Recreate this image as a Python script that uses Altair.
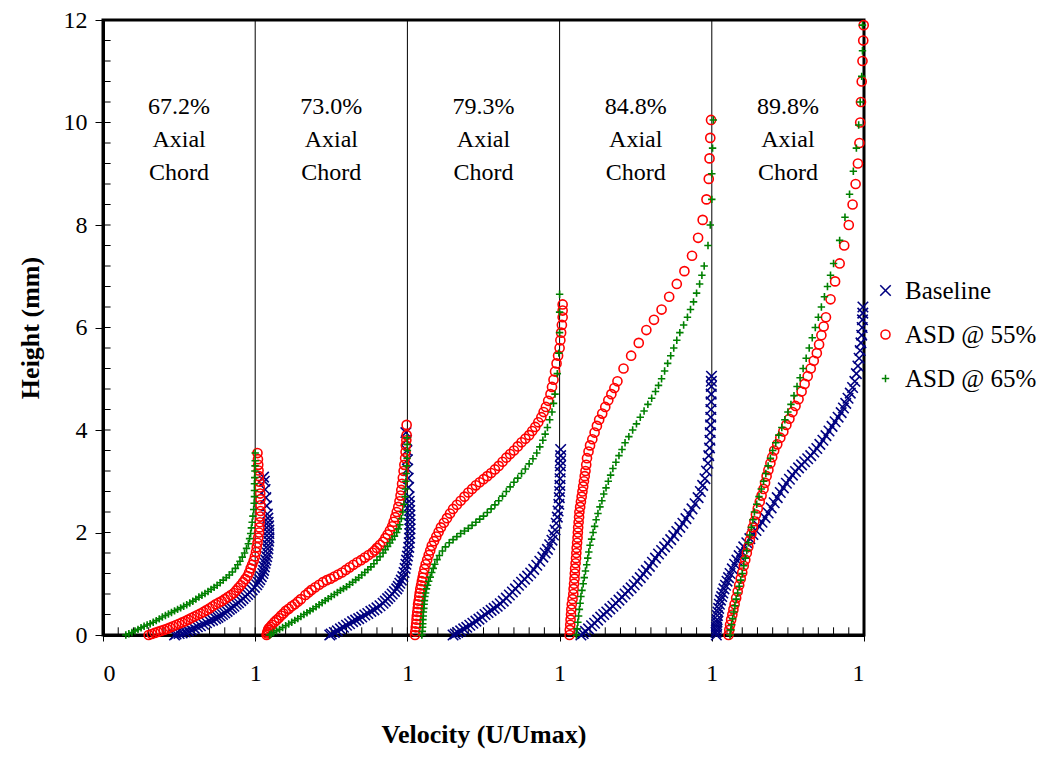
import json
import altair as alt
import pandas as pd

series_names = ["Baseline", "ASD @ 55%", "ASD @ 65%"]
series_colors = ["#000080", "#FF0000", "#008000"]
chord_labels = ["67.2%", "73.0%", "79.3%", "84.8%", "89.8%"]
x_tick_values = [0, 1, 2, 3, 4, 5]
x_tick_labels = ["0", "1", "1", "1", "1", "1"]
y_tick_values = [0, 2, 4, 6, 8, 10, 12]
divider_x = [1, 2, 3, 4]

# (offset velocity, height mm), panel by panel
baseline_points = [
    # 67.2%
    (0.47, 0.0), (0.50, 0.03), (0.54, 0.06), (0.58, 0.10), (0.62, 0.16), (0.66, 0.21), (0.70, 0.27),
    (0.74, 0.32), (0.77, 0.37), (0.80, 0.43), (0.83, 0.50), (0.86, 0.56), (0.89, 0.63), (0.92, 0.71),
    (0.95, 0.79), (0.98, 0.88), (1.01, 0.98), (1.03, 1.08), (1.05, 1.20), (1.06, 1.33), (1.07, 1.46),
    (1.08, 1.60), (1.085, 1.75), (1.09, 1.90), (1.09, 2.05), (1.085, 2.20), (1.08, 2.36), (1.075, 2.52),
    (1.07, 2.68), (1.065, 2.84), (1.06, 3.0), (1.055, 3.08),
    (0.48, 0.02), (0.52, 0.04), (0.56, 0.08), (0.60, 0.13), (0.64, 0.18), (0.68, 0.24), (0.72, 0.29),
    (0.755, 0.345), (0.785, 0.40), (0.815, 0.46), (0.845, 0.53), (0.875, 0.6), (0.905, 0.67),
    (0.935, 0.75), (0.965, 0.83), (0.995, 0.93), (1.02, 1.03), (1.04, 1.14), (1.055, 1.26),
    (1.065, 1.4), (1.075, 1.53), (1.083, 1.68), (1.088, 1.83), (1.09, 1.98), (1.088, 2.13), (1.083, 2.28),
    # 73.0%
    (1.49, 0.0), (1.52, 0.05), (1.56, 0.12), (1.60, 0.19), (1.64, 0.26), (1.68, 0.32), (1.72, 0.39),
    (1.76, 0.46), (1.80, 0.53), (1.84, 0.62), (1.87, 0.71), (1.90, 0.80), (1.93, 0.90), (1.95, 1.01),
    (1.97, 1.14), (1.985, 1.30), (1.995, 1.46), (2.005, 1.62), (2.012, 1.80), (2.016, 1.98), (2.017, 2.16),
    (2.016, 2.34), (2.014, 2.52), (2.011, 2.70), (2.008, 2.88), (2.005, 3.06), (2.002, 3.24), (2.0, 3.42),
    (1.997, 3.6), (1.994, 3.8), (1.99, 3.95),
    (1.50, 0.02), (1.54, 0.08), (1.58, 0.15), (1.62, 0.22), (1.66, 0.29), (1.70, 0.35), (1.74, 0.42),
    (1.78, 0.49), (1.82, 0.57), (1.855, 0.66), (1.885, 0.75), (1.915, 0.85), (1.94, 0.95), (1.96, 1.07),
    (1.978, 1.22), (1.99, 1.38), (2.0, 1.54), (2.009, 1.71), (2.014, 1.89), (2.017, 2.07), (2.017, 2.25),
    (2.015, 2.43), (2.012, 2.61),
    # 79.3%
    (2.30, 0.0), (2.33, 0.05), (2.37, 0.12), (2.41, 0.19), (2.45, 0.27), (2.49, 0.35), (2.53, 0.44),
    (2.57, 0.52), (2.61, 0.61), (2.65, 0.72), (2.69, 0.84), (2.73, 0.97), (2.77, 1.09), (2.81, 1.21),
    (2.85, 1.36), (2.89, 1.52), (2.92, 1.67), (2.95, 1.85), (2.97, 2.05), (2.985, 2.3), (2.995, 2.55),
    (3.0, 2.8), (3.003, 3.05), (3.005, 3.3), (3.007, 3.5), (3.007, 3.62),
    (2.315, 0.02), (2.35, 0.08), (2.39, 0.15), (2.43, 0.23), (2.47, 0.31), (2.51, 0.4), (2.55, 0.48),
    (2.59, 0.56), (2.63, 0.66), (2.67, 0.78), (2.71, 0.9), (2.75, 1.03), (2.79, 1.15), (2.83, 1.28),
    (2.87, 1.44), (2.905, 1.6), (2.935, 1.76), (2.96, 1.95), (2.978, 2.18), (2.99, 2.42), (2.998, 2.68),
    (3.002, 2.92), (3.004, 3.18), (3.006, 3.4),
    # 84.8%
    (3.14, 0.0), (3.17, 0.07), (3.21, 0.18), (3.25, 0.29), (3.29, 0.40), (3.33, 0.51), (3.37, 0.62),
    (3.41, 0.74), (3.45, 0.86), (3.49, 0.98), (3.53, 1.12), (3.57, 1.26), (3.61, 1.42), (3.65, 1.58),
    (3.69, 1.72), (3.73, 1.86), (3.77, 2.02), (3.81, 2.18), (3.85, 2.36), (3.89, 2.56), (3.925, 2.8),
    (3.955, 3.05), (3.975, 3.35), (3.985, 3.65), (3.99, 3.95), (3.993, 4.25), (3.995, 4.55),
    (3.997, 4.85), (3.998, 5.05),
    (3.155, 0.03), (3.19, 0.12), (3.23, 0.23), (3.27, 0.35), (3.31, 0.45), (3.35, 0.56), (3.39, 0.68),
    (3.43, 0.8), (3.47, 0.92), (3.51, 1.05), (3.55, 1.19), (3.59, 1.34), (3.63, 1.5), (3.67, 1.65),
    (3.71, 1.79), (3.75, 1.94), (3.79, 2.1), (3.83, 2.27), (3.87, 2.46), (3.91, 2.68), (3.94, 2.92),
    (3.965, 3.2), (3.98, 3.5), (3.988, 3.8), (3.992, 4.1), (3.994, 4.4), (3.996, 4.7), (3.997, 4.95),
    # 89.8%
    (4.03, 0.0), (4.03, 0.1), (4.032, 0.2), (4.035, 0.3), (4.04, 0.45), (4.05, 0.6), (4.065, 0.75),
    (4.08, 0.9), (4.10, 1.05), (4.12, 1.2), (4.15, 1.38), (4.18, 1.55), (4.21, 1.72), (4.25, 1.88),
    (4.29, 2.04), (4.33, 2.2), (4.37, 2.38), (4.41, 2.58), (4.45, 2.78), (4.49, 2.96), (4.53, 3.12),
    (4.57, 3.26), (4.61, 3.38), (4.65, 3.5), (4.69, 3.64), (4.73, 3.8), (4.77, 3.98), (4.81, 4.16),
    (4.85, 4.34), (4.88, 4.52), (4.91, 4.72), (4.94, 4.95), (4.96, 5.25), (4.975, 5.55), (4.985, 5.85),
    (4.99, 6.15), (4.993, 6.4),
    (4.028, 0.05), (4.031, 0.15), (4.034, 0.25), (4.037, 0.38), (4.045, 0.52), (4.057, 0.68),
    (4.072, 0.82), (4.09, 0.97), (4.11, 1.12), (4.135, 1.29), (4.165, 1.46), (4.195, 1.63), (4.23, 1.8),
    (4.27, 1.96), (4.31, 2.12), (4.35, 2.29), (4.39, 2.48), (4.43, 2.68), (4.47, 2.87), (4.51, 3.04),
    (4.55, 3.19), (4.59, 3.32), (4.63, 3.44), (4.67, 3.57), (4.71, 3.72), (4.75, 3.89), (4.79, 4.07),
    (4.83, 4.25), (4.865, 4.43), (4.895, 4.62), (4.925, 4.83), (4.95, 5.1), (4.968, 5.4), (4.98, 5.7),
    (4.988, 6.0), (4.992, 6.28),
]

asd55_points = [
    # 67.2%
    (0.30, 0.0), (0.34, 0.04), (0.38, 0.08), (0.42, 0.12), (0.46, 0.17), (0.50, 0.22), (0.54, 0.27),
    (0.58, 0.33), (0.62, 0.39), (0.66, 0.45), (0.70, 0.52), (0.74, 0.60), (0.78, 0.66), (0.82, 0.74),
    (0.86, 0.82), (0.89, 0.92), (0.92, 1.03), (0.95, 1.15), (0.97, 1.30), (0.99, 1.45), (1.005, 1.62),
    (1.015, 1.80), (1.025, 2.0), (1.03, 2.2), (1.035, 2.42), (1.035, 2.65), (1.03, 2.88), (1.025, 3.1),
    (1.02, 3.32), (1.015, 3.55),
    (0.32, 0.02), (0.36, 0.06), (0.40, 0.10), (0.44, 0.145), (0.48, 0.195), (0.52, 0.245), (0.56, 0.30),
    (0.60, 0.36), (0.64, 0.42), (0.68, 0.485), (0.72, 0.56), (0.76, 0.63), (0.80, 0.70), (0.84, 0.78),
    (0.875, 0.87), (0.905, 0.97), (0.935, 1.09), (0.96, 1.22), (0.98, 1.37), (0.998, 1.53), (1.01, 1.71),
    (1.02, 1.9), (1.028, 2.1), (1.033, 2.31), (1.035, 2.53), (1.033, 2.76), (1.028, 2.99), (1.022, 3.21),
    (1.018, 3.43),
    # 73.0%
    (1.075, 0.0), (1.08, 0.06), (1.09, 0.13), (1.11, 0.20), (1.14, 0.29), (1.17, 0.38), (1.20, 0.47),
    (1.24, 0.56), (1.28, 0.65), (1.33, 0.78), (1.37, 0.88), (1.42, 0.98), (1.47, 1.07), (1.52, 1.14),
    (1.57, 1.22), (1.62, 1.32), (1.67, 1.42), (1.72, 1.51), (1.77, 1.61), (1.80, 1.70), (1.84, 1.82),
    (1.87, 1.96), (1.90, 2.12), (1.92, 2.30), (1.94, 2.50), (1.955, 2.72), (1.965, 2.95), (1.975, 3.2),
    (1.985, 3.45), (1.99, 3.7), (1.995, 3.9), (1.995, 4.1),
    (1.078, 0.03), (1.085, 0.1), (1.10, 0.16), (1.125, 0.25), (1.155, 0.33), (1.185, 0.42), (1.22, 0.51),
    (1.26, 0.6), (1.30, 0.7), (1.35, 0.83), (1.395, 0.93), (1.445, 1.03), (1.495, 1.1), (1.545, 1.18),
    (1.595, 1.27), (1.645, 1.37), (1.695, 1.46), (1.745, 1.56), (1.785, 1.65), (1.82, 1.76),
    (1.855, 1.89), (1.885, 2.04), (1.91, 2.21), (1.93, 2.4), (1.948, 2.61), (1.96, 2.83), (1.97, 3.07),
    (1.98, 3.32), (1.988, 3.57), (1.993, 3.8),
    # 79.3%
    (2.05, 0.0), (2.055, 0.15), (2.06, 0.3), (2.065, 0.45), (2.07, 0.6), (2.078, 0.75), (2.085, 0.9),
    (2.095, 1.05), (2.105, 1.2), (2.12, 1.38), (2.14, 1.56), (2.16, 1.74), (2.19, 1.92), (2.22, 2.1),
    (2.26, 2.28), (2.30, 2.46), (2.35, 2.62), (2.40, 2.78), (2.45, 2.92), (2.50, 3.04), (2.55, 3.16),
    (2.60, 3.3), (2.65, 3.46), (2.70, 3.6), (2.75, 3.76), (2.80, 3.9), (2.84, 4.06), (2.88, 4.25),
    (2.91, 4.45), (2.94, 4.7), (2.96, 4.98), (2.98, 5.3), (3.0, 5.6), (3.01, 5.9), (3.02, 6.2), (3.02, 6.45),
    (2.052, 0.07), (2.058, 0.22), (2.062, 0.37), (2.068, 0.52), (2.074, 0.67), (2.081, 0.82),
    (2.09, 0.97), (2.1, 1.12), (2.112, 1.29), (2.13, 1.47), (2.15, 1.65), (2.175, 1.83), (2.205, 2.01),
    (2.24, 2.19), (2.28, 2.37), (2.325, 2.54), (2.375, 2.7), (2.425, 2.85), (2.475, 2.98), (2.525, 3.1),
    (2.575, 3.23), (2.625, 3.38), (2.675, 3.53), (2.725, 3.68), (2.775, 3.83), (2.82, 3.98),
    (2.86, 4.15), (2.895, 4.35), (2.925, 4.57), (2.95, 4.84), (2.97, 5.14), (2.99, 5.45), (3.005, 5.75),
    (3.015, 6.05), (3.02, 6.33),
    # 84.8%
    (3.065, 0.0), (3.07, 0.2), (3.075, 0.4), (3.08, 0.6), (3.09, 0.8), (3.095, 1.0), (3.10, 1.2),
    (3.105, 1.4), (3.11, 1.6), (3.115, 1.8), (3.12, 2.0), (3.125, 2.2), (3.13, 2.4), (3.14, 2.6),
    (3.15, 2.8), (3.16, 3.0), (3.17, 3.2), (3.18, 3.45), (3.20, 3.7), (3.23, 3.95), (3.26, 4.2),
    (3.30, 4.45), (3.34, 4.7), (3.38, 4.95), (3.42, 5.2), (3.47, 5.45), (3.52, 5.7), (3.57, 5.95),
    (3.62, 6.15), (3.67, 6.35), (3.72, 6.6), (3.77, 6.85), (3.82, 7.1), (3.87, 7.4), (3.91, 7.75),
    (3.94, 8.1), (3.965, 8.5), (3.98, 8.9), (3.985, 9.3), (3.99, 9.7), (3.995, 10.05),
    (3.067, 0.1), (3.072, 0.3), (3.077, 0.5), (3.085, 0.7), (3.092, 0.9), (3.098, 1.1), (3.102, 1.3),
    (3.108, 1.5), (3.112, 1.7), (3.118, 1.9), (3.122, 2.1), (3.128, 2.3), (3.135, 2.5), (3.145, 2.7),
    (3.155, 2.9), (3.165, 3.1), (3.175, 3.32), (3.19, 3.58), (3.215, 3.82), (3.245, 4.08),
    (3.28, 4.32), (3.32, 4.58), (3.36, 4.82),
    # 89.8%
    (4.11, 0.0), (4.12, 0.2), (4.135, 0.4), (4.15, 0.6), (4.17, 0.85), (4.19, 1.1), (4.21, 1.35),
    (4.23, 1.6), (4.25, 1.85), (4.27, 2.1), (4.29, 2.35), (4.315, 2.6), (4.34, 2.85), (4.36, 3.1),
    (4.385, 3.35), (4.41, 3.6), (4.45, 3.85), (4.49, 4.1), (4.53, 4.35), (4.57, 4.6), (4.61, 4.9),
    (4.65, 5.2), (4.69, 5.5), (4.72, 5.85), (4.75, 6.2), (4.78, 6.55), (4.81, 6.9), (4.84, 7.25),
    (4.87, 7.6), (4.90, 8.0), (4.925, 8.4), (4.945, 8.8), (4.96, 9.2), (4.97, 9.6), (4.975, 10.0),
    (4.98, 10.4), (4.985, 10.8), (4.99, 11.2), (4.995, 11.6), (4.998, 11.9),
    (4.115, 0.1), (4.127, 0.3), (4.142, 0.5), (4.16, 0.72), (4.18, 0.97), (4.2, 1.22), (4.22, 1.47),
    (4.24, 1.72), (4.26, 1.97), (4.28, 2.22), (4.302, 2.47), (4.327, 2.72), (4.35, 2.97), (4.372, 3.22),
    (4.397, 3.47), (4.43, 3.72), (4.47, 3.97), (4.51, 4.22), (4.55, 4.47), (4.59, 4.75), (4.63, 5.05),
    (4.67, 5.35), (4.705, 5.67), (4.735, 6.02),
]

asd65_points = [
    # 67.2%
    (0.15, 0.0), (0.19, 0.05), (0.23, 0.11), (0.27, 0.17), (0.31, 0.22), (0.35, 0.28), (0.39, 0.35),
    (0.43, 0.41), (0.47, 0.47), (0.51, 0.53), (0.55, 0.59), (0.59, 0.66), (0.63, 0.74), (0.67, 0.81),
    (0.71, 0.89), (0.75, 0.97), (0.79, 1.07), (0.83, 1.17), (0.87, 1.30), (0.90, 1.44), (0.93, 1.60),
    (0.955, 1.78), (0.97, 1.98), (0.98, 2.2), (0.99, 2.45), (0.995, 2.7), (0.995, 2.95), (0.998, 3.2),
    (1.0, 3.4), (1.0, 3.55),
    (0.17, 0.025), (0.21, 0.08), (0.25, 0.14), (0.29, 0.195), (0.33, 0.25), (0.37, 0.315), (0.41, 0.38),
    (0.45, 0.44), (0.49, 0.5), (0.53, 0.56), (0.57, 0.625), (0.61, 0.7), (0.65, 0.775), (0.69, 0.85),
    (0.73, 0.93), (0.77, 1.02), (0.81, 1.12), (0.85, 1.23), (0.885, 1.37), (0.915, 1.52), (0.943, 1.69),
    (0.963, 1.88), (0.975, 2.09), (0.985, 2.32), (0.993, 2.57), (0.995, 2.82), (0.997, 3.07),
    (0.999, 3.3),
    # 73.0%
    (1.095, 0.0), (1.12, 0.05), (1.16, 0.11), (1.20, 0.18), (1.24, 0.25), (1.28, 0.32), (1.32, 0.40),
    (1.36, 0.47), (1.40, 0.55), (1.44, 0.63), (1.48, 0.71), (1.52, 0.79), (1.56, 0.87), (1.60, 0.94),
    (1.64, 1.03), (1.68, 1.12), (1.72, 1.22), (1.76, 1.33), (1.80, 1.46), (1.84, 1.60), (1.87, 1.73),
    (1.90, 1.86), (1.93, 2.0), (1.95, 2.15), (1.97, 2.40), (1.985, 2.7), (1.99, 3.0), (1.995, 3.3),
    (2.0, 3.6), (1.998, 3.85),
    (1.105, 0.02), (1.14, 0.08), (1.18, 0.145), (1.22, 0.215), (1.26, 0.285), (1.30, 0.36),
    (1.34, 0.435), (1.38, 0.51), (1.42, 0.59), (1.46, 0.67), (1.50, 0.75), (1.54, 0.83), (1.58, 0.905),
    (1.62, 0.985), (1.66, 1.075), (1.70, 1.17), (1.74, 1.275), (1.78, 1.39), (1.82, 1.53),
    (1.855, 1.665), (1.885, 1.795), (1.915, 1.93), (1.94, 2.07), (1.96, 2.27), (1.978, 2.55),
    (1.988, 2.85), (1.993, 3.15), (1.998, 3.45), (1.999, 3.72),
    # 79.3%
    (2.095, 0.0), (2.10, 0.15), (2.102, 0.3), (2.105, 0.45), (2.11, 0.6), (2.115, 0.75), (2.125, 0.9),
    (2.14, 1.05), (2.16, 1.22), (2.18, 1.38), (2.21, 1.55), (2.25, 1.72), (2.30, 1.86), (2.35, 1.98),
    (2.40, 2.08), (2.45, 2.2), (2.50, 2.32), (2.55, 2.46), (2.60, 2.62), (2.65, 2.8), (2.70, 2.98),
    (2.75, 3.15), (2.80, 3.34), (2.85, 3.55), (2.89, 3.8), (2.92, 4.05), (2.95, 4.35), (2.97, 4.7),
    (2.985, 5.1), (2.995, 5.5), (3.0, 5.9), (3.0, 6.3), (3.0, 6.65),
    (2.098, 0.07), (2.101, 0.22), (2.104, 0.37), (2.108, 0.52), (2.112, 0.67), (2.12, 0.82),
    (2.132, 0.97), (2.15, 1.13), (2.17, 1.3), (2.195, 1.47), (2.23, 1.64), (2.275, 1.8), (2.325, 1.92),
    (2.375, 2.03), (2.425, 2.14), (2.475, 2.26), (2.525, 2.39), (2.575, 2.54), (2.625, 2.71),
    (2.675, 2.89), (2.725, 3.06), (2.775, 3.24), (2.825, 3.44), (2.87, 3.67), (2.905, 3.92),
    (2.935, 4.2), (2.96, 4.52),
    # 84.8%
    (3.11, 0.0), (3.12, 0.25), (3.13, 0.5), (3.14, 0.75), (3.155, 1.0), (3.17, 1.25), (3.185, 1.5),
    (3.20, 1.75), (3.22, 2.0), (3.24, 2.25), (3.265, 2.5), (3.29, 2.75), (3.32, 3.0), (3.35, 3.25),
    (3.39, 3.5), (3.43, 3.75), (3.48, 4.0), (3.53, 4.25), (3.58, 4.5), (3.63, 4.75), (3.67, 5.0),
    (3.71, 5.3), (3.75, 5.6), (3.79, 5.9), (3.84, 6.2), (3.88, 6.5), (3.92, 6.85), (3.95, 7.2),
    (3.975, 7.6), (3.99, 8.0), (4.0, 8.5), (4.0, 9.0), (4.005, 9.5), (4.01, 10.05),
    (3.115, 0.12), (3.125, 0.37), (3.135, 0.62), (3.147, 0.87), (3.162, 1.12), (3.178, 1.37),
    (3.192, 1.62), (3.21, 1.87), (3.23, 2.12), (3.252, 2.37), (3.278, 2.62), (3.305, 2.87),
    (3.335, 3.12), (3.37, 3.37), (3.41, 3.62), (3.455, 3.87), (3.505, 4.12), (3.555, 4.37),
    (3.605, 4.62), (3.65, 4.87), (3.69, 5.15), (3.73, 5.45), (3.77, 5.75), (3.815, 6.05), (3.86, 6.35),
    (3.9, 6.67), (3.935, 7.02),
    # 89.8%
    (4.12, 0.0), (4.13, 0.2), (4.145, 0.45), (4.16, 0.7), (4.18, 0.95), (4.20, 1.2), (4.22, 1.5),
    (4.24, 1.8), (4.26, 2.1), (4.28, 2.4), (4.31, 2.7), (4.34, 3.0), (4.37, 3.3), (4.40, 3.6),
    (4.44, 3.9), (4.48, 4.2), (4.52, 4.5), (4.56, 4.85), (4.60, 5.2), (4.64, 5.6), (4.68, 6.0),
    (4.72, 6.4), (4.76, 6.8), (4.80, 7.25), (4.84, 7.7), (4.875, 8.15), (4.905, 8.6), (4.93, 9.05),
    (4.95, 9.5), (4.965, 9.95), (4.975, 10.4), (4.985, 10.9), (4.99, 11.4), (4.99, 11.9),
    (4.125, 0.1), (4.137, 0.32), (4.152, 0.57), (4.17, 0.82), (4.19, 1.07), (4.21, 1.35), (4.23, 1.65),
    (4.25, 1.95), (4.27, 2.25), (4.295, 2.55), (4.325, 2.85), (4.355, 3.15), (4.385, 3.45),
    (4.42, 3.75), (4.46, 4.05), (4.5, 4.35), (4.54, 4.67), (4.58, 5.02), (4.62, 5.4), (4.66, 5.8),
    (4.7, 6.2), (4.74, 6.6), (4.78, 7.02),
]

FONT = "Liberation Serif"
W, H = 761, 615

rows = []
for name, pts in zip(series_names, [baseline_points, asd55_points, asd65_points]):
    for x, y in pts:
        rows.append({"series": name, "x": x, "y": y})
df = pd.DataFrame(rows)

ann_df = pd.DataFrame({
    "cx": [i + 0.5 for i in range(len(chord_labels))],
    "cy": [10.3] * len(chord_labels),
    "label": [f"{c}\nAxial\nChord" for c in chord_labels],
})
div_df = pd.DataFrame({"x": divider_x})
minor_x_df = pd.DataFrame({"x": [round(0.1 * i, 1) for i in range(1, 50)]})
minor_y_df = pd.DataFrame({"y": [round(0.4 * i, 1) for i in range(1, 30)]})

x_scale = alt.Scale(domain=[0, 5], nice=False)
y_scale = alt.Scale(domain=[0, 12], nice=False)

label_expr = json.dumps(x_tick_labels) + "[datum.value]"

shape_paths = ["M-1,-1L1,1M-1,1L1,-1", "circle", "M-1,0L1,0M0,-1L0,1"]

legend = alt.Legend(
    title=None, orient="none", legendX=770, legendY=258,
    labelFont=FONT, labelFontSize=25, labelColor="black",
    rowPadding=18, symbolSize=55, symbolStrokeWidth=1.5, labelOffset=7,
    symbolOpacity=1,
)

points = alt.Chart(df).mark_point(filled=False, strokeWidth=1.6, opacity=1).encode(
    x=alt.X("x:Q", scale=x_scale, title="Velocity (U/Umax)",
            axis=alt.Axis(values=x_tick_values, labelExpr=label_expr, orient="bottom",
                          grid=False, tickSize=6, tickColor="black", domainColor="black",
                          domainWidth=3, labelFont=FONT, labelFontSize=24, labelColor="black",
                          labelPadding=20, titleFont=FONT, titleFontSize=26,
                          titleFontWeight="bold", titleColor="black", titlePadding=36)),
    y=alt.Y("y:Q", scale=y_scale, title="Height (mm)",
            axis=alt.Axis(values=y_tick_values, orient="left", grid=False, tickSize=8,
                          tickColor="black", domainColor="black", domainWidth=3,
                          labelFont=FONT, labelFontSize=24, labelColor="black",
                          labelPadding=8, titleFont=FONT, titleFontSize=26,
                          titleFontWeight="bold", titleColor="black", titlePadding=20)),
    color=alt.Color("series:N", scale=alt.Scale(domain=series_names, range=series_colors), legend=legend),
    shape=alt.Shape("series:N", scale=alt.Scale(domain=series_names, range=shape_paths), legend=legend),
    size=alt.Size("series:N", scale=alt.Scale(domain=series_names, range=[110, 55, 140]), legend=None),
)

dividers = alt.Chart(div_df).mark_rule(color="black", strokeWidth=1).encode(
    x=alt.X("x:Q", scale=x_scale, axis=None),
)

minor_x_ticks = alt.Chart(minor_x_df).mark_rule(color="black", strokeWidth=1).encode(
    x=alt.X("x:Q", scale=x_scale, axis=None),
    y=alt.YDatum(0, scale=y_scale, axis=None),
    y2=alt.Y2Datum(0.15),
)

minor_y_ticks = alt.Chart(minor_y_df).mark_rule(color="black", strokeWidth=1).encode(
    y=alt.Y("y:Q", scale=y_scale, axis=None),
    x=alt.XDatum(0, scale=x_scale, axis=None),
    x2=alt.X2Datum(0.05),
)

annotations = alt.Chart(ann_df).mark_text(
    font=FONT, fontSize=24, lineBreak="\n", lineHeight=33, align="center",
    baseline="middle", color="black",
).encode(
    x=alt.X("cx:Q", scale=x_scale, axis=None),
    y=alt.Y("cy:Q", scale=y_scale, axis=None),
    text="label:N",
)

chart = alt.layer(dividers, minor_x_ticks, minor_y_ticks, points, annotations).resolve_scale(
    x="independent", y="independent", color="independent", shape="independent", size="independent"
).properties(
    width=W, height=H,
    autosize=alt.AutoSizeParams(type="none"),
    padding={"left": 95, "top": 12, "right": 189, "bottom": 116},
    background="white",
).configure_view(stroke="black", strokeWidth=3)

chart.save("out.html", embed_options={"renderer": "svg", "actions": False})
